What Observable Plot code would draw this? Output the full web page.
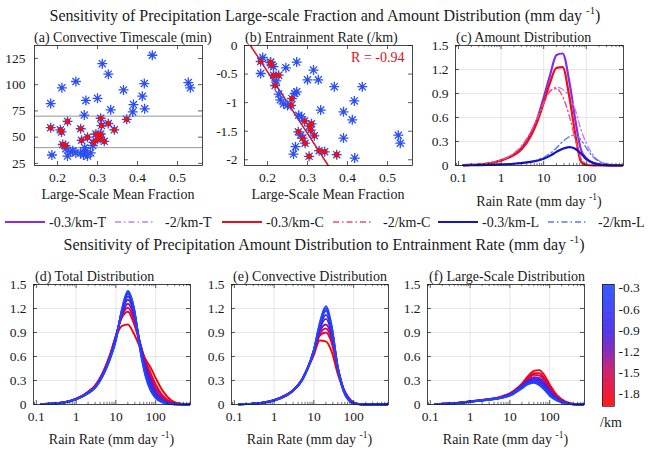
<!DOCTYPE html>
<html><head><meta charset="utf-8">
<script src="https://cdn.jsdelivr.net/npm/d3@7"></script>
<script src="https://cdn.jsdelivr.net/npm/@observablehq/plot@0.6"></script>
<style>
body{margin:0;background:#fff;}
#root{position:relative;width:650px;height:450px;overflow:hidden;background:#fff;}
</style></head><body><div id="root"></div>
<script>
// ---------------- DATA ----------------
// Panel (a): large-scale mean fraction vs convective timescale (min); red = highlighted subset
const aFrac = [0.437,0.312,0.327,0.246,0.211,0.183,0.271,0.300,0.267,0.333,0.365,0.417,0.412,0.390,0.388,0.418,0.527,0.532,
  0.186,0.221,0.225,0.233,0.246,0.258,0.271,0.275,0.283,0.288,0.268,0.238,0.265,
  0.183,0.207,0.210,0.225,0.213,0.220,0.258,0.260,0.275,0.290,0.296,0.307,0.308,0.310,0.308,0.317,0.327,0.342,0.373,0.300];
const aTime = [128,120,110,103,97,82,85,87,71,76,95,101,89,81,74,77,102,97,
  33,39,32,36,35,35,37,32,35,42,40,37,33,
  59,57,55,65,43,42,58,47,50,45,53,49,68,61,53,46,63,57,67,48];
const aRed = aFrac.map((d,i)=> i >= 31);
const aRefLines = [40, 70];

// Panel (b): large-scale mean fraction vs entrainment rate (/km)
const bFrac = [0.188,0.183,0.208,0.215,0.246,0.273,0.315,0.300,0.327,0.367,0.437,0.417,0.333,0.390,0.412,0.390,0.527,0.532,
  0.418,0.265,0.270,0.268,0.273,0.228,0.232,0.240,0.250,0.278,0.285,0.222,0.283,
  0.183,0.207,0.210,0.215,0.228,0.219,0.261,0.259,0.293,0.310,0.308,0.317,0.277,0.288,0.294,0.304,0.329,0.343,0.373,0.305];
const bEnt = [-0.21,-0.49,-0.29,-0.37,-0.39,-0.29,-0.43,-0.60,-0.60,-0.72,-0.72,-0.97,-1.13,-1.16,-1.30,-1.62,-1.57,-1.71,
  -1.97,-1.90,-1.77,-0.84,-0.81,-0.85,-0.95,-1.02,-1.05,-1.22,-1.25,-0.62,-1.57,
  -0.28,-0.30,-0.34,-0.52,-0.52,-0.70,-0.93,-1.05,-1.32,-1.37,-1.48,-1.58,-1.51,-1.62,-1.71,-1.94,-1.84,-1.86,-1.91,-1.41];
const bRed = bFrac.map((d,i)=> i >= 31);
const bFitSlope = -10.8, bFitIntercept = 1.70;
const bCorrText = "R = -0.94";

const fracTicks = [0.2, 0.3, 0.4, 0.5];
const aYTicks = [25, 50, 75, 100, 125];
const bYTicks = [0, -0.5, -1, -1.5, -2];

// Rain-rate bins (mm/day)
const rr = [0.13,0.2,0.3,0.5,1,2,3,5,7,10,14,20,28,40,55,75,100,150,250,400,700];
const rrTicks = [0.1, 1, 10, 100];
const distTicks = [0, 0.3, 0.6, 0.9, 1.2, 1.5];

// Panel (c): amount distribution
const cSeries = ["-0.3/km-T","-2/km-T","-0.3/km-C","-2/km-C","-0.3/km-L","-2/km-L"];
const cValues = [
  [.005,.008,.012,.025,.065,.14,.22,.40,.58,.85,1.12,1.38,1.40,1.05,.58,.20,.09,.03,.008,.002,0],
  [.006,.009,.014,.028,.07,.15,.24,.42,.58,.78,.92,.98,.95,.86,.70,.45,.28,.12,.035,.01,.002],
  [.005,.008,.012,.024,.062,.13,.20,.37,.54,.78,1.03,1.22,1.23,.86,.40,.05,.008,.002,0,0,0],
  [.006,.009,.014,.028,.07,.15,.24,.42,.58,.78,.93,.96,.86,.62,.33,.09,.02,.004,0,0,0],
  [.002,.003,.005,.008,.013,.022,.03,.045,.06,.085,.12,.17,.21,.23,.21,.15,.08,.03,.008,.002,0],
  [.002,.003,.005,.009,.015,.025,.035,.05,.07,.10,.15,.22,.30,.36,.38,.32,.22,.10,.03,.008,.001]
];

// Panels (d)-(f): distributions for entrainment rates (/km)
const entLevels = [-0.3,-0.45,-0.6,-0.8,-1.0,-1.25,-1.5,-1.75,-1.95];
const totalDist = [
  [.005,.008,.012,.025,.065,.14,.21,.39,.56,.80,1.18,1.42,1.22,.70,.36,.17,.08,.025,.005,.001,0],
  [.005,.008,.012,.025,.065,.14,.21,.39,.56,.81,1.17,1.40,1.22,.72,.38,.19,.09,.03,.006,.001,0],
  [.005,.008,.012,.025,.065,.14,.21,.39,.57,.82,1.16,1.38,1.21,.74,.40,.21,.10,.035,.007,.001,0],
  [.005,.008,.012,.025,.066,.145,.215,.40,.57,.83,1.15,1.35,1.19,.76,.43,.24,.12,.04,.009,.002,0],
  [.005,.008,.013,.026,.067,.145,.22,.40,.58,.84,1.14,1.31,1.16,.77,.46,.27,.14,.05,.012,.002,0],
  [.005,.008,.013,.026,.068,.15,.22,.41,.59,.85,1.12,1.26,1.12,.78,.50,.31,.17,.07,.016,.003,0],
  [.005,.009,.013,.027,.07,.15,.23,.42,.60,.86,1.10,1.21,1.07,.78,.53,.35,.21,.09,.022,.005,.001],
  [.005,.009,.013,.027,.07,.155,.23,.42,.61,.86,1.08,1.16,1.02,.77,.55,.39,.25,.11,.03,.007,.001],
  [.005,.009,.014,.028,.072,.16,.24,.43,.61,.84,.98,1.00,.89,.72,.57,.46,.33,.17,.05,.012,.002]
];
const convDist = [
  [.004,.006,.010,.020,.050,.11,.17,.30,.45,.68,1.02,1.23,.98,.45,.17,.05,.012,.002,0,0,0],
  [.004,.006,.010,.020,.050,.11,.17,.30,.45,.68,1.00,1.20,.97,.46,.18,.055,.014,.002,0,0,0],
  [.004,.006,.010,.020,.050,.11,.17,.30,.45,.68,.98,1.17,.95,.46,.19,.06,.015,.003,0,0,0],
  [.004,.006,.010,.020,.051,.11,.17,.30,.45,.68,.96,1.12,.92,.46,.19,.065,.017,.003,0,0,0],
  [.004,.006,.010,.021,.052,.115,.175,.31,.46,.67,.94,1.07,.89,.46,.20,.07,.018,.003,0,0,0],
  [.004,.006,.011,.021,.053,.115,.175,.31,.46,.66,.91,1.00,.85,.45,.20,.075,.02,.004,0,0,0],
  [.004,.007,.011,.022,.054,.12,.18,.31,.46,.65,.88,.95,.81,.44,.20,.08,.022,.004,0,0,0],
  [.004,.007,.011,.022,.055,.12,.18,.31,.46,.64,.86,.90,.77,.43,.20,.08,.023,.005,.001,0,0],
  [.005,.007,.011,.022,.056,.12,.18,.31,.45,.62,.80,.79,.66,.38,.19,.08,.025,.005,.001,0,0]
];
const lsDist = [
  [.005,.008,.012,.018,.035,.05,.06,.075,.09,.11,.15,.20,.25,.27,.24,.18,.11,.05,.012,.002,0],
  [.005,.008,.012,.018,.035,.05,.06,.075,.09,.115,.155,.21,.26,.28,.25,.19,.12,.055,.014,.003,0],
  [.005,.008,.012,.018,.035,.05,.06,.076,.092,.12,.16,.22,.27,.29,.27,.21,.13,.06,.015,.003,0],
  [.005,.008,.012,.019,.036,.051,.061,.077,.094,.12,.165,.225,.28,.31,.29,.23,.15,.07,.017,.003,0],
  [.005,.008,.012,.019,.036,.052,.062,.078,.096,.125,.17,.23,.29,.32,.31,.25,.16,.075,.02,.004,0],
  [.005,.008,.013,.019,.037,.053,.063,.08,.10,.13,.175,.24,.30,.34,.33,.27,.18,.085,.022,.005,.001],
  [.005,.008,.013,.020,.038,.054,.064,.082,.10,.13,.18,.25,.32,.37,.36,.30,.20,.10,.027,.006,.001],
  [.005,.008,.013,.020,.039,.055,.066,.084,.105,.135,.185,.255,.33,.39,.39,.32,.22,.11,.03,.007,.001],
  [.005,.009,.014,.021,.04,.057,.068,.086,.11,.14,.19,.26,.35,.42,.43,.36,.25,.12,.035,.008,.002]
];
const cbTicks = [-0.3,-0.6,-0.9,-1.2,-1.5,-1.8];

// ---------------- STYLE ----------------
const FONT = '"Liberation Serif","Times New Roman",Times,serif';
const INK = "#1a1a1a";
const ptBlue = "#2b4ff0", ptRed = "#e3121c", fitRed = "#d8141c";
const cColors = ["#8a2be2","#c47ff0","#e8101c","#ef4b7d","#1414c4","#5b7cf0"];
const cDash = [null,"6,3,1.5,3",null,"6,3,1.5,3",null,"6,3,1.5,3"];
const cWidth = [2.2,1.4,2.2,1.4,2.2,1.4];
const cbDomain = [-1.98,-1.5,-1.2,-0.9,-0.25];
const cbRange = ["#ff0000","#cc0a5a","#7a14b4","#3c24e8","#1e48ff"];
const colorScale = {type:"linear", domain: cbDomain, range: cbRange, interpolate: "rgb"};
const rrDomain = [0.085, 750];
const fracDomain = [0.1425, 0.5625];

// MATLAB-like '*' marker: four crossing strokes
const star8 = {
  draw(ctx, size){
    const r = Math.sqrt(size / Math.PI), q = r * Math.SQRT1_2;
    ctx.moveTo(-r, 0); ctx.lineTo(r, 0);
    ctx.moveTo(0, -r); ctx.lineTo(0, r);
    ctx.moveTo(-q, -q); ctx.lineTo(q, q);
    ctx.moveTo(-q, q); ctx.lineTo(q, -q);
  }
};

const root = document.getElementById("root");
function place(chart, left, top){
  chart.style.position = "absolute";
  chart.style.left = left + "px";
  chart.style.top = top + "px";
  chart.style.maxWidth = "none";
  root.appendChild(chart);
}
const baseStyle = {fontFamily: FONT, fontSize: "13.5px", background: "transparent", color: INK, overflow: "visible"};

function inTicks(xs, ys, W, H, len, w = 0.7){
  const o = {stroke: INK, strokeWidth: w};
  const m = [];
  if (xs.length) m.push(Plot.tickX(xs, {x: d=>d, insetTop: H-len, ...o}), Plot.tickX(xs, {x: d=>d, insetBottom: H-len, ...o}));
  if (ys.length) m.push(Plot.tickY(ys, {y: d=>d, insetRight: W-len, ...o}), Plot.tickY(ys, {y: d=>d, insetLeft: W-len, ...o}));
  return m;
}
function logMinor(domain){
  const out = [];
  for (let e = -2; e <= 3; e++) for (let k = 2; k <= 9; k++) {
    const v = k * Math.pow(10, e);
    if (v > domain[0] && v < domain[1]) out.push(v);
  }
  return out;
}

// ---------------- SCATTER PANELS ----------------
function scatterPanel({left, top, W, H, yDomain, yTicks, frac, val, red, under = [], over = [], yPad = 8}){
  const mL = 45, mR = 15, mT = 10, mB = 30;
  const pts = frac.map((f,i)=>({f, v: val[i], red: red[i]}));
  const chart = Plot.plot({
    width: W+mL+mR, height: H+mT+mB, marginLeft: mL, marginRight: mR, marginTop: mT, marginBottom: mB,
    style: baseStyle,
    x: {domain: fracDomain}, y: {domain: yDomain},
    marks: [
      ...under,
      Plot.dot(pts, {x: "f", y: "v", symbol: star8, r: 5, stroke: ptBlue, strokeWidth: 1.3, fill: "none"}),
      Plot.dot(pts.filter(d=>d.red), {x: "f", y: "v", r: 2.8, fill: ptRed}),
      ...over,
      Plot.frame({stroke: INK, strokeWidth: 0.8}),
      ...inTicks(fracTicks, yTicks, W, H, 4),
      Plot.axisX(fracTicks, {tickSize: 0, tickPadding: 7, label: null, tickFormat: d=>String(d)}),
      Plot.axisY(yTicks, {tickSize: 0, tickPadding: yPad, label: null, tickFormat: d=>String(d)})
    ]
  });
  place(chart, left-mL, top-mT);
}

scatterPanel({left: 34, top: 45, W: 168, H: 120, yDomain: [23, 137.3], yTicks: aYTicks,
  frac: aFrac, val: aTime, red: aRed, yPad: 9,
  under: [Plot.ruleY(aRefLines, {stroke: "#7a7a7a", strokeWidth: 0.8})]});

// regression segment endpoints computed from the fit over the visible y range
const bY0 = 0, bY1 = -2.1;
const fitPts = [bY0, bY1].map(y => ({x: (y - bFitIntercept)/bFitSlope, y}));
scatterPanel({left: 244, top: 45, W: 168, H: 120, yDomain: [-2.1, 0], yTicks: bYTicks,
  frac: bFrac, val: bEnt, red: bRed, yPad: 7,
  under: [Plot.line(fitPts, {x: "x", y: "y", stroke: fitRed, strokeWidth: 1.5})],
  over: [Plot.text([bCorrText], {frameAnchor: "top-right", dx: -8, dy: 7, fill: fitRed, fontSize: 14, textAnchor: "end", lineAnchor: "top"})]});

// ---------------- DISTRIBUTION PANELS ----------------
function distPanel({left, top, W, H, data, stroke, strokeWidth, dash}){
  const mL = 40, mR = 12, mT = 10, mB = 30;
  const minor = logMinor(rrDomain);
  const gridO = {stroke: "#dcdcdc", strokeOpacity: 1, strokeWidth: 0.7};
  const chart = Plot.plot({
    width: W+mL+mR, height: H+mT+mB, marginLeft: mL, marginRight: mR, marginTop: mT, marginBottom: mB,
    style: baseStyle,
    x: {type: "log", domain: rrDomain}, y: {domain: [0, 1.5]},
    color: colorScale,
    marks: [
      Plot.gridX(rrTicks.filter(d=>d>=1), gridO),
      Plot.gridY(distTicks.slice(1,-1), gridO),
      ...data.map((series, i) => Plot.line(series, {x: "x", y: "y", stroke: stroke(i), strokeWidth: strokeWidth(i),
        strokeDasharray: dash ? dash(i) : null, curve: "monotone-x"})),
      Plot.frame({stroke: INK, strokeWidth: 0.8}),
      ...inTicks(rrTicks, distTicks, W, H, 4),
      ...inTicks(minor, [], W, H, 2.2, 0.6),
      Plot.axisX(rrTicks, {tickSize: 0, tickPadding: 7, label: null, tickFormat: d=>String(d)}),
      Plot.axisY(distTicks, {tickSize: 0, tickPadding: 7, label: null, tickFormat: d=>String(d)})
    ]
  });
  place(chart, left-mL, top-mT);
}

// Panel (c)
const cData = cValues.map(vals => vals.map((y,j)=>({x: rr[j], y})));
const cOrder = [0,1,2,3,5,4];
distPanel({left: 455, top: 45, W: 168, H: 120,
  data: cOrder.map(i=>cData[i]),
  stroke: k => cColors[cOrder[k]], strokeWidth: k => cWidth[cOrder[k]], dash: k => cDash[cOrder[k]]});

// Panels (d)-(f): draw most negative first so that -0.3 ends on top
function entSeries(mat){
  return entLevels.map((e, i) => mat[i].map((y,j)=>({x: rr[j], y, e}))).reverse();
}
const cScale = Plot.scale({color: colorScale});
const revEnt = entLevels.slice().reverse();
[[totalDist, 33], [convDist, 231], [lsDist, 427]].forEach(([mat, left]) => {
  distPanel({left, top: 284, W: 157, H: 120, data: entSeries(mat),
    stroke: k => cScale.apply(revEnt[k]), strokeWidth: () => 1.9});
});

// Colorbar
(function(){
  const W = 12, H = 122, mL = 2, mR = 40, mT = 4, mB = 4;
  const step = 0.005;
  const stops = d3.range(cbDomain[0], cbDomain[cbDomain.length-1], step);
  const chart = Plot.plot({
    width: W+mL+mR, height: H+mT+mB, marginLeft: mL, marginRight: mR, marginTop: mT, marginBottom: mB,
    style: baseStyle,
    y: {domain: [cbDomain[0], cbDomain[cbDomain.length-1]]},
    color: colorScale,
    marks: [
      Plot.rect(stops, {y1: d=>d, y2: d=>Math.min(d+step*1.6, cbDomain[cbDomain.length-1]), fill: d=>d}),
      Plot.frame({stroke: INK, strokeWidth: 0.7}),
      Plot.axisY(cbTicks, {anchor: "right", tickSize: 0, tickPadding: 4, label: null, tickFormat: d=>String(d)})
    ]
  });
  place(chart, 602-mL, 284-mT);
})();

// ---------------- TEXT OVERLAY ----------------
const svg = d3.select(root).append("svg")
  .attr("width", 650).attr("height", 450)
  .style("position","absolute").style("left","0px").style("top","0px")
  .style("pointer-events","none")
  .attr("font-family", FONT).attr("fill", INK);

function supText(g, x, y, size, before, sup, after, anchor){
  const t = g.append("text").attr("x", x).attr("y", y).attr("font-size", size).attr("text-anchor", anchor || "middle");
  t.append("tspan").text(before);
  t.append("tspan").attr("dy", -size*0.42).attr("font-size", size*0.68).text(sup);
  t.append("tspan").attr("dy", size*0.42).text(after);
  return t;
}
function plainText(x, y, size, s, anchor){
  svg.append("text").attr("x", x).attr("y", y).attr("font-size", size).attr("text-anchor", anchor || "start").text(s);
}

supText(svg, 325, 21, 16, "Sensitivity of Precipitation Large-scale Fraction and Amount Distribution (mm day ", "-1", ")");
supText(svg, 324, 250, 16, "Sensitivity of Precipitation Amount Distribution to Entrainment Rate (mm day ", "-1", ")");

const panelTitles = ["(a) Convective Timescale (min)","(b) Entrainment Rate (/km)","(c) Amount Distribution",
  "(d) Total Distribution","(e) Convective Distribution","(f) Large-Scale Distribution"];
const titlePos = [[34,42],[245,42],[456,42],[35,281],[233,281],[429,281]];
panelTitles.forEach((s,i)=>plainText(titlePos[i][0], titlePos[i][1], 14, s));

const fracLabel = "Large-Scale Mean Fraction";
plainText(118, 199, 14, fracLabel, "middle");
plainText(328, 199, 14, fracLabel, "middle");
supText(svg, 539, 206, 14, "Rain Rate (mm day ", "-1", ")");
[111.5, 309.5, 505.5].forEach(x => supText(svg, x, 444, 14, "Rain Rate (mm day ", "-1", ")"));
plainText(600, 427, 14, "/km");

// Legend row
const legendX = [5, 115, 222, 333, 438, 548];
cSeries.forEach((s, i) => {
  const x0 = legendX[i];
  svg.append("line").attr("x1", x0).attr("x2", x0+40).attr("y1", 222).attr("y2", 222)
    .attr("stroke", cColors[i]).attr("stroke-width", cDash[i] ? 1.6 : 2)
    .attr("stroke-dasharray", cDash[i] || null);
  plainText(x0 + (cDash[i] ? 50 : 44), 226.5, 14, s);
});
</script></body></html>
